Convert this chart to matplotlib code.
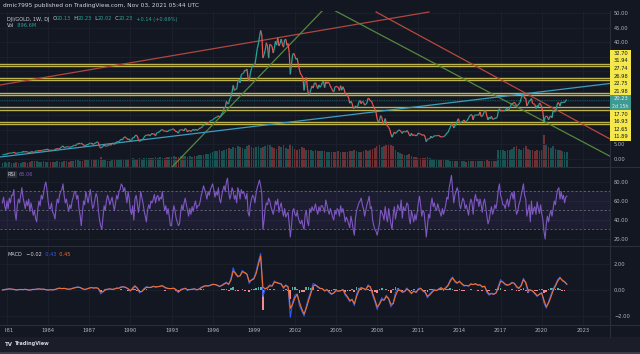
import numpy as np
import pandas as pd
import matplotlib
matplotlib.use("Agg")
import matplotlib.pyplot as plt
from matplotlib.collections import LineCollection
from matplotlib.patches import Rectangle
from matplotlib.lines import Line2D
from matplotlib.text import Annotation
from matplotlib.transforms import Bbox, TransformedBbox, IdentityTransform

# DJI/GOLD, one value per month, Sep 1980 .. Nov 2021
dji_gold = [
    1.39, 1.47, 1.60, 1.63,
    1.70, 1.95, 1.92, 2.05, 2.06, 2.12, 2.30, 2.07, 1.93, 1.98, 2.14, 2.19,
    2.26, 2.26, 2.56, 2.43, 2.48, 2.57, 2.38, 2.20, 2.28, 2.36, 2.54, 2.32,
    2.24, 2.70, 2.72, 2.85, 2.73, 2.94, 2.82, 2.93, 3.05, 3.22, 3.15, 3.32,
    3.30, 2.92, 2.95, 3.12, 2.87, 3.01, 3.23, 3.50, 3.49, 3.60, 3.49, 3.90,
    4.21, 4.48, 3.90, 3.94, 4.17, 4.20, 4.12, 3.99, 4.10, 4.28, 4.52, 4.72,
    4.49, 5.03, 5.28, 5.17, 5.48, 5.48, 5.00, 4.94, 4.21, 4.70, 4.97, 4.86,
    5.33, 5.48, 5.48, 5.02, 5.09, 5.40, 5.56, 5.85, 5.64, 4.23, 3.74, 4.00,
    4.31, 4.87, 4.37, 4.51, 4.46, 4.92, 4.90, 4.72, 5.34, 5.24, 5.04, 5.29,
    5.92, 5.87, 5.96, 6.37, 6.79, 6.51, 7.19, 7.61, 7.31, 7.00, 6.60, 6.89,
    6.24, 6.41, 7.32, 7.19, 7.89, 8.18, 7.85, 6.70, 6.00, 6.42, 6.65, 6.74,
    7.43, 7.96, 8.21, 8.07, 8.40, 7.89, 8.36, 8.77, 8.49, 8.58, 7.91, 8.98,
    9.08, 9.25, 9.49, 9.97, 10.07, 9.68, 9.51, 9.59, 9.37, 9.51, 9.90, 9.91,
    10.03, 10.31, 10.19, 9.66, 9.41, 9.30, 8.85, 9.81, 10.01, 9.97, 9.93, 9.63,
    10.47, 10.08, 9.27, 9.79, 9.72, 9.42, 9.80, 10.17, 9.73, 10.21, 9.77, 10.01,
    10.25, 10.66, 10.61, 11.10, 11.60, 11.77, 12.30, 12.04, 12.47, 12.42, 13.11, 13.22,
    13.32, 13.71, 14.12, 14.21, 14.40, 14.80, 14.36, 14.55, 15.51, 15.91, 17.57, 17.48,
    19.74, 18.90, 18.91, 20.62, 21.25, 22.96, 25.21, 23.45, 23.93, 23.92, 26.42, 27.28,
    26.10, 28.77, 29.24, 29.34, 30.38, 30.24, 30.83, 27.62, 26.67, 29.42, 31.00, 31.88,
    32.50, 32.31, 34.95, 37.73, 39.40, 41.87, 44.00, 42.47, 34.57, 35.77, 37.26, 39.79,
    38.66, 34.57, 39.28, 39.02, 38.53, 36.28, 37.98, 40.34, 39.01, 41.55, 38.72, 39.52,
    41.09, 39.31, 38.29, 40.82, 41.02, 38.89, 39.55, 36.45, 29.00, 32.53, 35.82, 36.17,
    35.18, 34.14, 34.45, 32.29, 30.44, 29.07, 28.64, 27.68, 23.50, 26.50, 27.88, 24.03,
    21.89, 22.67, 23.85, 25.01, 24.31, 25.97, 26.09, 25.11, 24.09, 25.39, 24.57, 25.13,
    26.23, 26.66, 24.42, 26.49, 25.86, 26.42, 25.93, 24.94, 24.23, 23.38, 23.02, 24.62,
    24.86, 24.75, 24.49, 23.37, 25.10, 23.57, 24.74, 23.93, 22.35, 22.21, 21.83, 20.90,
    19.09, 19.78, 19.09, 17.38, 17.37, 18.19, 17.67, 18.18, 19.50, 20.00, 18.92, 19.72,
    19.42, 18.45, 18.69, 19.21, 20.81, 20.63, 19.86, 19.85, 18.70, 17.65, 17.07, 15.90,
    13.70, 12.63, 13.14, 14.82, 14.28, 12.20, 12.40, 13.86, 12.27, 11.20, 10.83, 10.10,
    8.62, 7.49, 8.31, 9.24, 8.72, 9.12, 9.60, 9.96, 9.75, 9.34, 8.77, 9.52,
    9.31, 9.25, 9.75, 9.33, 8.34, 7.86, 8.86, 8.02, 8.26, 8.19, 7.94, 8.15,
    8.93, 8.67, 8.56, 8.23, 8.18, 8.28, 7.46, 5.90, 6.74, 6.94, 6.90, 7.81,
    7.26, 7.57, 7.92, 8.01, 7.95, 8.06, 8.02, 7.74, 7.58, 7.61, 7.60, 7.88,
    8.33, 8.91, 9.12, 10.10, 10.84, 12.08, 11.81, 10.61, 11.40, 11.75, 12.87, 13.79,
    12.62, 12.31, 12.82, 12.87, 13.37, 12.68, 12.92, 13.29, 14.07, 14.85, 15.17, 15.05,
    13.38, 14.95, 15.03, 15.07, 15.13, 15.03, 16.16, 14.56, 14.61, 15.47, 16.64, 16.42,
    14.73, 13.34, 14.34, 13.77, 14.64, 13.57, 13.65, 14.06, 13.91, 14.24, 16.30, 17.24,
    16.40, 16.65, 16.56, 16.51, 16.57, 17.19, 17.26, 16.60, 17.50, 18.39, 19.04, 18.97,
    19.44, 18.99, 18.19, 18.37, 18.80, 19.37, 20.76, 21.62, 22.50, 20.69, 20.92, 18.20,
    18.92, 19.74, 20.07, 20.73, 19.02, 18.88, 18.69, 17.27, 18.29, 17.88, 19.17, 18.81,
    17.80, 16.03, 12.70, 14.37, 14.69, 14.49, 13.38, 14.45, 14.73, 14.10, 16.69, 16.15,
    16.22, 17.84, 19.31, 19.15, 18.14, 19.48, 19.26, 19.49, 19.26, 20.09, 20.23,
]

# RSI(14), monthly, same dates as dji_gold
rsi = [
    58, 64, 55, 50,
    60, 52, 63, 58, 66, 66, 72, 48, 40, 55, 62, 58,
    66, 74, 64, 58, 52, 60, 55, 62, 49, 58, 52, 45,
    50, 42, 38, 52, 60, 55, 66, 62, 68, 76, 80, 72,
    60, 52, 52, 58, 48, 46, 41, 54, 62, 58, 66, 70,
    72, 78, 66, 58, 62, 55, 49, 56, 52, 60, 64, 70,
    70, 62, 66, 52, 45, 34, 48, 60, 56, 70, 64, 58,
    66, 72, 60, 52, 55, 62, 68, 64, 50, 40, 34, 30,
    42, 55, 50, 60, 66, 62, 56, 60, 64, 56, 50, 58,
    66, 62, 70, 72, 78, 76, 70, 74, 66, 58, 70, 62,
    50, 46, 55, 40, 62, 66, 58, 48, 56, 70, 64, 58,
    50, 44, 38, 50, 56, 52, 60, 58, 62, 67, 58, 64,
    66, 60, 64, 62, 70, 58, 50, 55, 46, 52, 44, 34,
    34, 46, 55, 50, 42, 38, 34, 36, 48, 56, 50, 58,
    63, 56, 50, 44, 52, 46, 54, 49, 56, 60, 52, 55,
    55, 59, 66, 70, 76, 72, 68, 62, 70, 66, 72, 75,
    78, 72, 64, 70, 66, 74, 62, 58, 66, 72, 76, 70,
    80, 84, 70, 62, 66, 74, 70, 62, 66, 58, 74, 70,
    62, 72, 68, 70, 66, 62, 68, 48, 44, 56, 62, 66,
    64, 58, 68, 74, 78, 82, 76, 68, 30, 40, 52, 58,
    56, 63, 60, 54, 50, 46, 52, 60, 56, 62, 48, 54,
    58, 50, 44, 52, 43, 46, 48, 36, 22, 34, 49, 52,
    46, 44, 49, 42, 38, 36, 40, 34, 30, 46, 50, 38,
    34, 52, 48, 54, 50, 52, 57, 50, 46, 54, 49, 55,
    55, 52, 48, 61, 56, 50, 46, 52, 48, 43, 40, 50,
    46, 52, 50, 44, 55, 48, 52, 46, 38, 43, 40, 36,
    32, 44, 38, 30, 24, 42, 50, 54, 58, 60, 63, 56,
    52, 44, 50, 56, 60, 65, 52, 54, 40, 34, 30, 28,
    24, 30, 36, 50, 48, 45, 40, 54, 44, 38, 52, 44,
    36, 30, 46, 54, 41, 48, 56, 52, 50, 61, 42, 54,
    50, 52, 58, 56, 42, 36, 50, 44, 38, 46, 40, 48,
    58, 65, 56, 44, 50, 48, 36, 22, 34, 46, 42, 56,
    63, 54, 58, 52, 50, 57, 52, 48, 44, 52, 46, 50,
    56, 64, 62, 74, 80, 87, 72, 58, 66, 70, 74, 70,
    56, 52, 58, 63, 60, 52, 56, 50, 45, 56, 62, 58,
    46, 60, 67, 60, 62, 54, 62, 56, 48, 58, 62, 54,
    44, 36, 40, 48, 54, 46, 50, 56, 52, 60, 72, 78,
    66, 62, 56, 56, 52, 58, 62, 54, 60, 66, 69, 62,
    70, 54, 46, 49, 56, 60, 66, 72, 78, 66, 62, 44,
    50, 56, 38, 60, 46, 52, 54, 46, 59, 52, 47, 56,
    47, 40, 28, 20, 36, 44, 38, 46, 50, 44, 52, 60,
    56, 66, 72, 74, 62, 70, 62, 66, 58, 64, 65.06,
]

# every second month from Sep 1980: MACD, signal, histogram, volume (M)
macd = [
    0.00, 0.05,
    0.08, 0.10, 0.06, 0.04, -0.02, 0.03,
    0.05, 0.02, 0.06, 0.00, -0.03, 0.06,
    0.04, 0.08, 0.10, 0.05, 0.07, 0.02,
    -0.02, 0.03, 0.00, 0.05, 0.12, 0.15,
    0.10, 0.14, 0.08, 0.05, 0.10, 0.16,
    0.20, 0.24, 0.18, 0.08, 0.02, 0.10,
    0.16, 0.20, 0.14, 0.18, 0.10, -0.30,
    -0.12, 0.05, 0.06, 0.10, 0.04, 0.08,
    0.16, 0.14, 0.26, 0.24, 0.18, 0.06,
    -0.10, 0.18, 0.35, 0.10, -0.22, -0.10,
    0.12, 0.26, 0.18, 0.20, 0.30, 0.22,
    0.26, 0.30, 0.34, 0.18, 0.12, 0.10,
    0.12, 0.14, -0.02, -0.20, 0.05, 0.10,
    0.14, -0.02, 0.04, 0.06, 0.10, 0.00,
    0.08, 0.22, 0.30, 0.34, 0.30, 0.38,
    0.45, 0.42, 0.35, 0.25, 0.38, 0.50,
    0.60, 0.40, 0.90, 1.70, 1.20, 1.00,
    1.10, 1.50, 1.30, 1.20, 0.50, 0.80,
    0.90, 1.40, 2.20, 2.80, -0.50, 0.10,
    0.20, 0.40, 0.30, 0.70, 0.55, 0.50,
    0.45, 0.10, 0.40, 0.20, -2.10, -0.90,
    -0.40, -0.30, -1.20, -1.60, -2.00, -1.20,
    -0.60, -0.10, 0.50, 0.40, 0.20, 0.10,
    0.10, -0.10, 0.05, -0.20, -0.35, -0.20,
    0.00, -0.10, -0.05, 0.05, -0.40, -0.60,
    -0.90, -0.70, -1.20, -0.30, 0.10, 0.20,
    0.10, 0.00, 0.40, 0.20, -0.40, -0.90,
    -1.50, -1.00, -0.60, -0.80, -0.40, -0.70,
    -1.30, -1.00, -0.20, 0.10, 0.00, -0.20,
    -0.10, 0.15, -0.10, -0.30, -0.05, -0.20,
    0.10, 0.15, -0.10, -0.20, -0.60, -0.30,
    -0.10, 0.05, -0.05, 0.10, 0.20, 0.00,
    0.20, 0.40, 0.80, 1.00, 0.60, 0.50,
    0.70, 0.45, 0.30, 0.35, 0.30, 0.50,
    0.40, 0.50, 0.35, 0.40, 0.20, 0.30,
    -0.20, -0.40, -0.25, -0.35, -0.20, 0.30,
    0.80, 0.60, 0.40, 0.35, 0.45, 0.60,
    0.50, 0.20, 0.10, 0.40, 0.90, 0.50,
    -0.20, 0.00, -0.10, -0.30, -0.50, -0.30,
    -0.20, -1.00, -1.40, -0.90, -0.40, 0.10,
    0.40, 0.80, 1.00, 0.70, 0.60, 0.43,
]

signal = [
    0.00, 0.02,
    0.05, 0.08, 0.07, 0.05, 0.01, 0.02,
    0.04, 0.03, 0.05, 0.02, -0.01, 0.03,
    0.04, 0.06, 0.08, 0.06, 0.06, 0.03,
    0.00, 0.02, 0.01, 0.03, 0.09, 0.13,
    0.11, 0.12, 0.09, 0.06, 0.08, 0.13,
    0.18, 0.22, 0.19, 0.11, 0.04, 0.08,
    0.14, 0.18, 0.15, 0.17, 0.12, -0.15,
    -0.14, 0.00, 0.05, 0.08, 0.05, 0.07,
    0.13, 0.14, 0.22, 0.24, 0.20, 0.10,
    -0.04, 0.10, 0.28, 0.16, -0.12, -0.12,
    0.05, 0.20, 0.20, 0.20, 0.27, 0.24,
    0.25, 0.28, 0.32, 0.22, 0.14, 0.11,
    0.11, 0.13, 0.03, -0.14, -0.02, 0.07,
    0.12, 0.02, 0.03, 0.05, 0.08, 0.02,
    0.06, 0.17, 0.26, 0.32, 0.31, 0.36,
    0.42, 0.42, 0.37, 0.28, 0.34, 0.45,
    0.55, 0.45, 0.75, 1.45, 1.30, 1.05,
    1.08, 1.40, 1.35, 1.22, 0.65, 0.75,
    0.85, 1.25, 1.95, 2.60, 0.20, 0.10,
    0.15, 0.32, 0.30, 0.60, 0.58, 0.52,
    0.46, 0.20, 0.35, 0.25, -1.40, -1.10,
    -0.60, -0.35, -0.95, -1.45, -1.85, -1.40,
    -0.80, -0.25, 0.30, 0.38, 0.25, 0.13,
    0.10, -0.05, 0.02, -0.14, -0.30, -0.24,
    -0.06, -0.08, -0.06, 0.02, -0.28, -0.52,
    -0.80, -0.75, -1.05, -0.50, -0.05, 0.15,
    0.12, 0.03, 0.30, 0.25, -0.25, -0.75,
    -1.30, -1.10, -0.75, -0.78, -0.50, -0.65,
    -1.10, -1.05, -0.45, -0.05, -0.02, -0.15,
    -0.12, 0.08, -0.05, -0.24, -0.10, -0.18,
    0.03, 0.12, -0.04, -0.16, -0.48, -0.38,
    -0.18, -0.02, -0.04, 0.06, 0.16, 0.05,
    0.15, 0.33, 0.68, 0.92, 0.70, 0.55,
    0.64, 0.50, 0.35, 0.35, 0.31, 0.44,
    0.42, 0.47, 0.39, 0.39, 0.26, 0.28,
    -0.08, -0.32, -0.28, -0.32, -0.24, 0.15,
    0.65, 0.62, 0.46, 0.38, 0.42, 0.55,
    0.52, 0.28, 0.14, 0.32, 0.78, 0.60,
    0.02, 0.00, -0.07, -0.24, -0.44, -0.34,
    -0.24, -0.80, -1.28, -1.00, -0.55, -0.05,
    0.30, 0.68, 0.92, 0.76, 0.64, 0.45,
]

histogram = [
    0.00, 0.03,
    0.03, 0.02, -0.01, -0.01, -0.03, 0.01,
    0.01, -0.01, 0.01, -0.02, -0.02, 0.03,
    0.00, 0.02, 0.02, -0.01, 0.01, -0.01,
    -0.02, 0.01, -0.01, 0.02, 0.03, 0.02,
    -0.01, 0.02, -0.01, -0.01, 0.02, 0.03,
    0.02, 0.02, -0.01, -0.03, -0.02, 0.02,
    0.02, 0.02, -0.01, 0.01, -0.02, -0.15,
    0.02, 0.05, 0.01, 0.02, -0.01, 0.01,
    0.03, 0.00, 0.04, 0.00, -0.02, -0.04,
    -0.06, 0.08, 0.07, -0.06, -0.10, 0.02,
    0.07, 0.06, -0.02, 0.00, 0.03, -0.02,
    0.01, 0.02, 0.02, -0.04, -0.02, -0.01,
    0.01, 0.01, -0.05, -0.06, 0.07, 0.03,
    0.02, -0.04, 0.01, 0.01, 0.02, -0.02,
    0.02, 0.05, 0.04, 0.02, -0.01, 0.02,
    0.03, 0.00, -0.02, -0.03, 0.04, 0.05,
    0.05, -0.05, 0.15, 0.25, -0.10, -0.05,
    0.02, 0.10, -0.05, -0.02, -0.15, 0.05,
    0.05, 0.15, 0.25, 0.20, -1.50, 0.00,
    0.05, 0.08, 0.00, 0.10, -0.03, -0.02,
    -0.01, -0.10, 0.05, -0.05, -0.70, 0.20,
    0.20, 0.05, -0.25, -0.15, -0.15, 0.20,
    0.20, 0.15, 0.20, 0.02, -0.05, -0.03,
    0.00, -0.05, 0.03, -0.06, -0.05, 0.04,
    0.06, -0.02, 0.01, 0.03, -0.12, -0.08,
    -0.10, 0.05, -0.15, 0.20, 0.15, 0.05,
    -0.02, -0.03, 0.10, -0.05, -0.15, -0.15,
    -0.20, 0.10, 0.15, -0.02, 0.10, -0.05,
    -0.20, 0.05, 0.25, 0.15, 0.02, -0.05,
    0.02, 0.07, -0.05, -0.06, 0.05, -0.02,
    0.07, 0.03, -0.06, -0.04, -0.12, 0.08,
    0.08, 0.07, -0.01, 0.04, 0.04, -0.05,
    0.05, 0.07, 0.12, 0.08, -0.10, -0.05,
    0.06, -0.05, -0.05, 0.00, -0.01, 0.06,
    -0.02, 0.03, -0.04, 0.01, -0.06, 0.02,
    -0.12, -0.08, 0.03, -0.03, 0.04, 0.15,
    0.15, -0.02, -0.06, -0.03, 0.03, 0.05,
    -0.02, -0.08, -0.04, 0.08, 0.12, -0.10,
    -0.22, 0.00, -0.03, -0.06, -0.06, 0.04,
    0.04, -0.20, -0.12, 0.10, 0.15, 0.15,
    0.10, 0.12, 0.08, -0.06, -0.04, -0.02,
]

volume = [
    260, 280,
    270, 290, 260, 250, 280, 270,
    260, 280, 300, 270, 330, 350,
    340, 360, 330, 320, 340, 330,
    310, 320, 300, 330, 340, 320,
    330, 350, 340, 330, 360, 380,
    400, 420, 380, 390, 410, 400,
    450, 480, 430, 460, 440, 600,
    420, 400, 390, 380, 400, 410,
    430, 450, 460, 470, 450, 480,
    500, 520, 490, 510, 540, 500,
    520, 550, 530, 540, 560, 580,
    560, 590, 570, 560, 580, 600,
    620, 640, 610, 630, 650, 660,
    650, 630, 640, 620, 660, 680,
    700, 720, 750, 770, 800, 820,
    900, 950, 980, 1000, 980, 1050,
    1100, 1150, 1100, 1200, 1150, 1250,
    1200, 1150, 1100, 1250, 1300, 1200,
    1150, 1200, 1250, 1150, 1200, 1250,
    1300, 1350, 1200, 1150, 1100, 1250,
    1200, 1300, 1150, 1100, 1400, 1250,
    1100, 1050, 1100, 1200, 1150, 1050,
    1000, 1050, 950, 1000, 980, 950,
    950, 980, 900, 920, 880, 900,
    920, 950, 900, 880, 920, 900,
    950, 980, 1000, 950, 900, 920,
    940, 1000, 980, 1050, 1100, 1150,
    1250, 1300, 1200, 1250, 1350, 1400,
    1300, 1250, 1050, 900, 850, 800,
    750, 700, 780, 650, 600, 580,
    560, 550, 520, 540, 620, 560,
    500, 480, 460, 430, 420, 440,
    420, 400, 390, 380, 370, 360,
    350, 360, 340, 330, 350, 370,
    360, 380, 350, 370, 390, 380,
    400, 380, 370, 360, 350, 1000,
    1050, 1000, 980, 1020, 1050, 1100,
    1200, 1250, 1100, 1050, 1150, 1250,
    1100, 1050, 1000, 950, 1000, 980,
    1050, 1900, 1400, 1200, 1150, 1250,
    1100, 1050, 1000, 950, 900, 896.6,
]

# horizontal levels drawn on the chart
levels = [32.70, 31.94, 27.74, 26.98, 22.75, 21.98, 17.70, 16.93, 12.65, 11.89]
last_close = 20.23
# trend lines: (year, value) start and end
trend_lines = {
    "red_up": [(1980.49, 25.34), (2011.78, 50.34)],
    "green_up": [(1993.04, -2.74), (2003.98, 50.68)],
    "green_down": [(2004.96, 50.68), (2024.98, 0.95)],
    "red_down": [(2007.92, 50.34), (2024.98, 6.85)],
    "cyan_up": [(1980.49, 0.68), (2024.98, 25.86)],
}
year_ticks = list(range(1981, 2024, 3))
price_ticks = [0, 5, 10, 15, 20, 25, 30, 35, 40, 45, 50]
price_ticks_labelled = [0, 5, 40, 45, 50]

BG = "#131722"
GRID = "#1d212d"
SEP = "#2a2e39"
TXT = "#b2b5be"
UP, DOWN = "#26a69a", "#ef5350"
line_colors = {"red_up": "#b0473f", "green_up": "#55883e", "green_down": "#55883e",
               "red_down": "#b8483e", "cyan_up": "#3c9dc0"}

W, H = 640, 354
fx = lambda px: px / W
fy = lambda py: 1 - py / H

months = pd.date_range("1980-09-01", periods=len(dji_gold), freq="MS")
t = np.asarray(months.year + (months.month - 1) / 12.0)
t2 = t[::2]
price = np.asarray(dji_gold)

fig = plt.figure(figsize=(W / 100, H / 100), dpi=100, facecolor=BG)
ax = fig.add_axes([0, fy(167), fx(610), (167 - 11) / H])
rsi_ax = fig.add_axes([0, fy(246), fx(610), (246 - 167) / H], sharex=ax)
macd_ax = fig.add_axes([0, fy(325), fx(610), (325 - 246) / H], sharex=ax)

# volume on a twin scale at the bottom of the price pane
vol_ax = ax.twinx()
vol_ax.set_zorder(ax.get_zorder() - 1)
vol_up = np.r_[True, price[::2][1:] >= price[::2][:-1]]
vol_ax.bar(t2, volume, width=1.5 / 12, color=np.where(vol_up, UP, DOWN), alpha=0.42, lw=0)
vol_ax.set_ylim(0, 9400)
vol_ax.axis("off")

for a in (ax, rsi_ax, macd_ax):
    a.set_facecolor(BG)
    for s in a.spines.values():
        s.set_visible(False)
    a.grid(True, color=GRID, lw=0.6)
    a.set_axisbelow(True)
    a.yaxis.tick_right()
    a.tick_params(axis="y", length=0, labelsize=3.7, labelcolor=TXT, pad=2.9,
                  labelleft=False, labelright=True)
    a.tick_params(axis="x", length=0, labelsize=3.7, labelcolor=TXT, pad=2.4)
ax.patch.set_visible(False)
ax.tick_params(labelbottom=False)
rsi_ax.tick_params(labelbottom=False)

# price, coloured by direction
pts = np.column_stack([t, price])
segs = np.stack([pts[:-1], pts[1:]], axis=1)
seg_col = np.where(price[1:] >= price[:-1], UP, DOWN)
ax.add_collection(LineCollection(segs, colors=seg_col, lw=0.9, zorder=4))

for v in levels:
    ax.axhline(v, color="#bdb34c", lw=1.0, zorder=3)
for name, ((x0, y0), (x1, y1)) in trend_lines.items():
    ax.plot([x0, x1], [y0, y1], color=line_colors[name], lw=0.9, zorder=3)
ax.axhline(last_close, color=UP, lw=0.5, ls=(0, (1, 1.5)), alpha=0.8, zorder=3)

ax.set_xlim(1980.49, 2024.98)
ax.set_ylim(-2.74, 50.68)
ax.set_yticks(price_ticks)
ax.set_yticklabels([f"{v:.2f}" if v in price_ticks_labelled else "" for v in price_ticks])

# RSI pane
rsi_ax.axhspan(30, 70, color="#7e57c2", alpha=0.1, lw=0)
for lvl in (70, 50, 30):
    rsi_ax.axhline(lvl, color="#787b86", lw=0.5, ls=(0, (3, 3)))
rsi_ax.plot(t, rsi, color="#7e57c2", lw=0.8)
rsi_ax.set_ylim(12.6, 95.8)
rsi_ax.set_yticks([20, 40, 60, 80])
rsi_ax.yaxis.set_major_formatter(lambda v, p: f"{v:.2f}")

# MACD pane
hist = np.asarray(histogram)
macd_ax.bar(t2, hist, width=1.5 / 12, color=np.where(hist >= 0, "#4fb3a5", "#f08c8c"), lw=0)
macd_ax.plot(t2, macd, color="#2f5bf0", lw=0.8)
macd_ax.plot(t2, signal, color="#f0702e", lw=0.8)
macd_ax.set_ylim(-2.69, 3.38)
macd_ax.set_yticks([-2, 0, 2])
macd_ax.yaxis.set_major_formatter(lambda v, p: f"{v:.2f}".replace("-", "\u2212"))
macd_ax.set_xticks(year_ticks)
macd_ax.set_xticklabels([str(y) for y in year_ticks])
# the first year label is cut by the left edge of the chart, as in TradingView
clip = TransformedBbox(Bbox([[4.6, 0], [W, H]]), IdentityTransform())
first = macd_ax.get_xticklabels()[0]
first.set_clip_box(clip)
first.set_clip_on(True)

# pane separators, price-axis border, footer strip
for py in (167, 246, 325):
    fig.add_artist(Line2D([0, 1], [fy(py), fy(py)], transform=fig.transFigure, color=SEP, lw=0.8))
fig.add_artist(Line2D([fx(610), fx(610)], [fy(337), fy(11)], transform=fig.transFigure, color=SEP, lw=0.8))
fig.add_artist(Rectangle((0, 0), 1, 17 / H, transform=fig.transFigure, color="#1b1e29", lw=0))
fig.add_artist(Rectangle((0, 0), 1, 2 / H, transform=fig.transFigure, color="#3a3d47", lw=0))

# price-axis labels for the levels and the last close
box_w = 21
top = 49.6
step = 7.6
for i, v in enumerate(levels):
    y0 = top + i * step + (2 * step if i >= 6 else 0)
    fig.add_artist(Rectangle((fx(610), fy(y0 + step)), box_w / W, step / H,
                             transform=fig.transFigure, color="#f5e84c", lw=0, zorder=5))
    fig.text(fx(610 + box_w / 2), fy(y0 + step / 2), f"{v:.2f}", ha="center", va="center",
             size=3.7, color="#131722", zorder=6)
ty = top + 6 * step
fig.add_artist(Rectangle((fx(610), fy(ty + 2 * step)), box_w / W, 2 * step / H,
                         transform=fig.transFigure, color="#3f9a91", lw=0, zorder=5))
fig.text(fx(610 + box_w / 2), fy(ty + step / 2), f"{last_close:.2f}", ha="center", va="center",
         size=3.7, color="#e8eaf0", zorder=6)
fig.text(fx(610 + box_w / 2), fy(ty + 1.5 * step), "2d 15h", ha="center", va="center",
         size=3.4, color="#e8eaf0", zorder=6)


def text_row(x_px, y_px, parts, size, **kw):
    prev = fig.text(fx(x_px), fy(y_px), parts[0][0], color=parts[0][1], size=size,
                    va="center", zorder=7, **kw)
    for s, c in parts[1:]:
        prev = fig.add_artist(Annotation(s, xy=(1, 0), xycoords=prev, va="bottom", ha="left",
                                         color=c, size=size, annotation_clip=False, zorder=7, **kw))
    return prev


LBL = "#d1d4dc"
text_row(3, 6, [("dmic7995 published on TradingView.com, Nov 03, 2021 05:44 UTC", LBL)], 4.2)
text_row(7, 19, [("DJI/GOLD, 1W, DJ", LBL), ("  O", LBL), ("20.13", UP), ("  H", LBL),
                 ("20.23", UP), ("  L", LBL), ("20.02", UP), ("  C", LBL), ("20.23", UP),
                 ("  +0.14 (+0.69%)", UP)], 3.6)
text_row(7, 25.5, [("Vol", LBL), ("  896.6M", UP)], 3.6)
fig.text(fx(8), fy(174.3), "RSI", color=LBL, size=3.6, va="center", zorder=7,
         bbox=dict(boxstyle="square,pad=0.2", fc="#2a2e39", ec="none"))
fig.text(fx(19), fy(174.3), "65.06", color="#7e57c2", size=3.6, va="center", zorder=7)
text_row(8, 255, [("MACD", LBL), ("  \u22120.02", LBL), ("  0.43", "#2f5bf0"), ("  0.45", "#f0702e")], 3.6)
fig.text(fx(5), fy(344), "TV", color=LBL, size=4.0, weight="bold", va="center")
fig.text(fx(15), fy(344), "TradingView", color=LBL, size=3.6, weight="bold", va="center")

fig.savefig("out.png", dpi=100, facecolor=BG)
